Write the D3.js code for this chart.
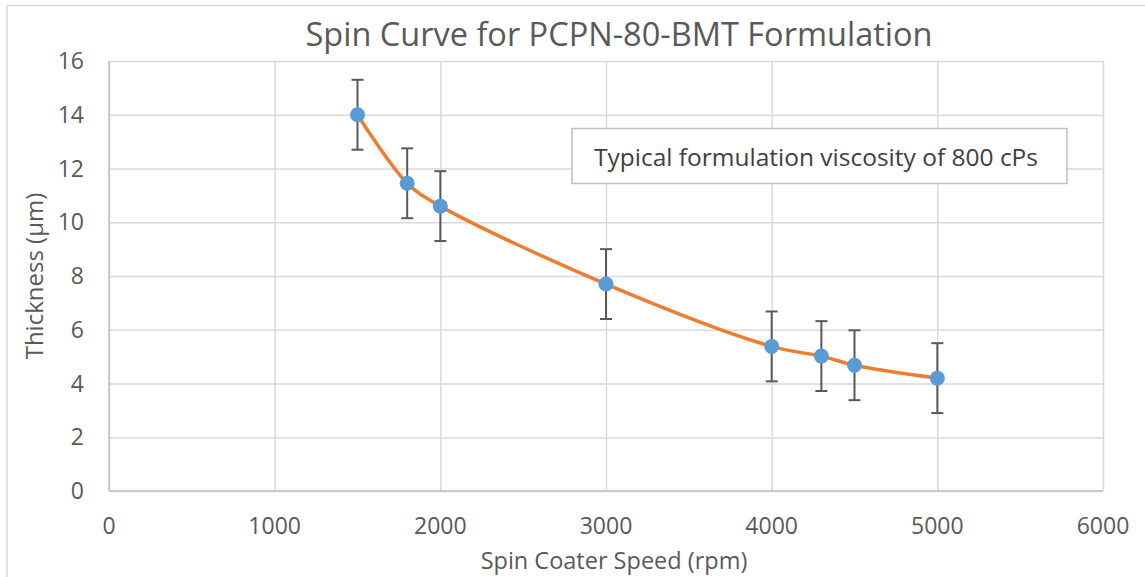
<!DOCTYPE html>
<html>
<head>
<meta charset="utf-8">
<script src="https://cdn.jsdelivr.net/npm/d3@7.9.0/dist/d3.min.js"></script>
<style>
  body { margin: 0; background: #fff; }
  text { font-family: "Open Sans", sans-serif; fill: #595959; }
</style>
</head>
<body>
<div id="chart"></div>
<script>
// chart values
const speeds = [1500, 1800, 2000, 3000, 4000, 4300, 4500, 5000];
const thickness = [14.0, 11.45, 10.6, 7.7, 5.38, 5.02, 4.68, 4.2];
const errors = [1.3, 1.3, 1.3, 1.3, 1.3, 1.3, 1.3, 1.3];
const xTicks = [0, 1000, 2000, 3000, 4000, 5000, 6000];
const yTicks = [0, 2, 4, 6, 8, 10, 12, 14, 16];
const title = 'Spin Curve for PCPN-80-BMT Formulation';
const xTitle = 'Spin Coater Speed (rpm)';
const yTitle = 'Thickness (µm)';
const note = 'Typical formulation viscosity of 800 cPs';

const width = 1145;
const height = 577;
const area = { left: 109, right: 1103, top: 61, bottom: 491 };

const points = speeds.map((s, i) => ({ x: s, y: thickness[i], e: errors[i] }));

const svg = d3.select('#chart')
  .append('svg')
  .attr('width', width)
  .attr('height', height);

// chart border
svg.append('rect')
  .attr('x', 7).attr('y', 5.5)
  .attr('width', 1160).attr('height', 600)
  .attr('fill', '#fff')
  .attr('stroke', '#d9d9d9')
  .attr('stroke-width', 1.5);

const xScale = d3.scaleLinear().domain([0, 6000]).range([area.left, area.right]);
const yScale = d3.scaleLinear().domain([0, 16]).range([area.bottom, area.top]);

// gridlines
svg.append('g')
  .attr('transform', `translate(0, ${area.bottom})`)
  .call(d3.axisBottom(xScale).tickValues(xTicks).tickFormat('').tickSize(-(area.bottom - area.top)))
  .call((g) => g.select('.domain').remove())
  .call((g) => g.selectAll('line').attr('stroke', '#d9d9d9').attr('stroke-width', 1.5));

svg.append('g')
  .attr('transform', `translate(${area.left}, 0)`)
  .call(d3.axisLeft(yScale).tickValues(yTicks).tickFormat('').tickSize(-(area.right - area.left)))
  .call((g) => g.select('.domain').remove())
  .call((g) => g.selectAll('line').attr('stroke', '#d9d9d9').attr('stroke-width', 1.5));

// axis lines
svg.append('line')
  .attr('x1', area.left).attr('x2', area.left)
  .attr('y1', area.top).attr('y2', area.bottom)
  .attr('stroke', '#bfbfbf').attr('stroke-width', 1.5);
svg.append('line')
  .attr('x1', area.left).attr('x2', area.right)
  .attr('y1', area.bottom).attr('y2', area.bottom)
  .attr('stroke', '#bfbfbf').attr('stroke-width', 1.5);

// tick labels
svg.append('g')
  .selectAll('text')
  .data(xTicks)
  .join('text')
  .attr('x', (d) => xScale(d))
  .attr('y', 534)
  .attr('text-anchor', 'middle')
  .style('font-size', '23px')
  .text((d) => d);

svg.append('g')
  .selectAll('text')
  .data(yTicks)
  .join('text')
  .attr('x', 84)
  .attr('y', (d) => yScale(d) + 8)
  .attr('text-anchor', 'end')
  .style('font-size', '23px')
  .text((d) => d);

// titles
svg.append('text')
  .attr('x', 619).attr('y', 46)
  .attr('text-anchor', 'middle')
  .style('font-size', '32.5px')
  .text(title);

svg.append('text')
  .attr('x', 614).attr('y', 569)
  .attr('text-anchor', 'middle')
  .style('font-size', '23.5px')
  .text(xTitle);

svg.append('text')
  .attr('transform', `translate(43, ${(area.top + area.bottom) / 2}) rotate(-90)`)
  .attr('text-anchor', 'middle')
  .style('font-size', '24px')
  .text(yTitle);

// smoothed line
const line = d3.line()
  .x((d) => xScale(d.x))
  .y((d) => yScale(d.y))
  .curve(d3.curveCatmullRom.alpha(0.5));

svg.append('path')
  .datum(points)
  .attr('d', line)
  .attr('fill', 'none')
  .attr('stroke', '#ed7d31')
  .attr('stroke-width', 3.5)
  .attr('stroke-linecap', 'round');

// error bars
const bars = svg.append('g')
  .attr('stroke', '#595959')
  .attr('stroke-width', 2);

bars.selectAll('line.v')
  .data(points)
  .join('line')
  .attr('class', 'v')
  .attr('x1', (d) => xScale(d.x)).attr('x2', (d) => xScale(d.x))
  .attr('y1', (d) => yScale(d.y + d.e)).attr('y2', (d) => yScale(d.y - d.e));

bars.selectAll('line.top')
  .data(points)
  .join('line')
  .attr('class', 'top')
  .attr('x1', (d) => xScale(d.x) - 6).attr('x2', (d) => xScale(d.x) + 6)
  .attr('y1', (d) => yScale(d.y + d.e)).attr('y2', (d) => yScale(d.y + d.e));

bars.selectAll('line.bot')
  .data(points)
  .join('line')
  .attr('class', 'bot')
  .attr('x1', (d) => xScale(d.x) - 6).attr('x2', (d) => xScale(d.x) + 6)
  .attr('y1', (d) => yScale(d.y - d.e)).attr('y2', (d) => yScale(d.y - d.e));

// markers
svg.append('g')
  .selectAll('circle')
  .data(points)
  .join('circle')
  .attr('cx', (d) => xScale(d.x))
  .attr('cy', (d) => yScale(d.y))
  .attr('r', 7.5)
  .attr('fill', '#5b9bd5');

// note box
const noteG = svg.append('g');
noteG.append('rect')
  .attr('x', 572).attr('y', 128.5)
  .attr('width', 495).attr('height', 55)
  .attr('fill', '#fff')
  .attr('stroke', '#bfbfbf')
  .attr('stroke-width', 1.5);
noteG.append('text')
  .attr('x', 816).attr('y', 166)
  .attr('text-anchor', 'middle')
  .style('font-size', '24.5px')
  .style('fill', '#404040')
  .text(note);
</script>
</body>
</html>
